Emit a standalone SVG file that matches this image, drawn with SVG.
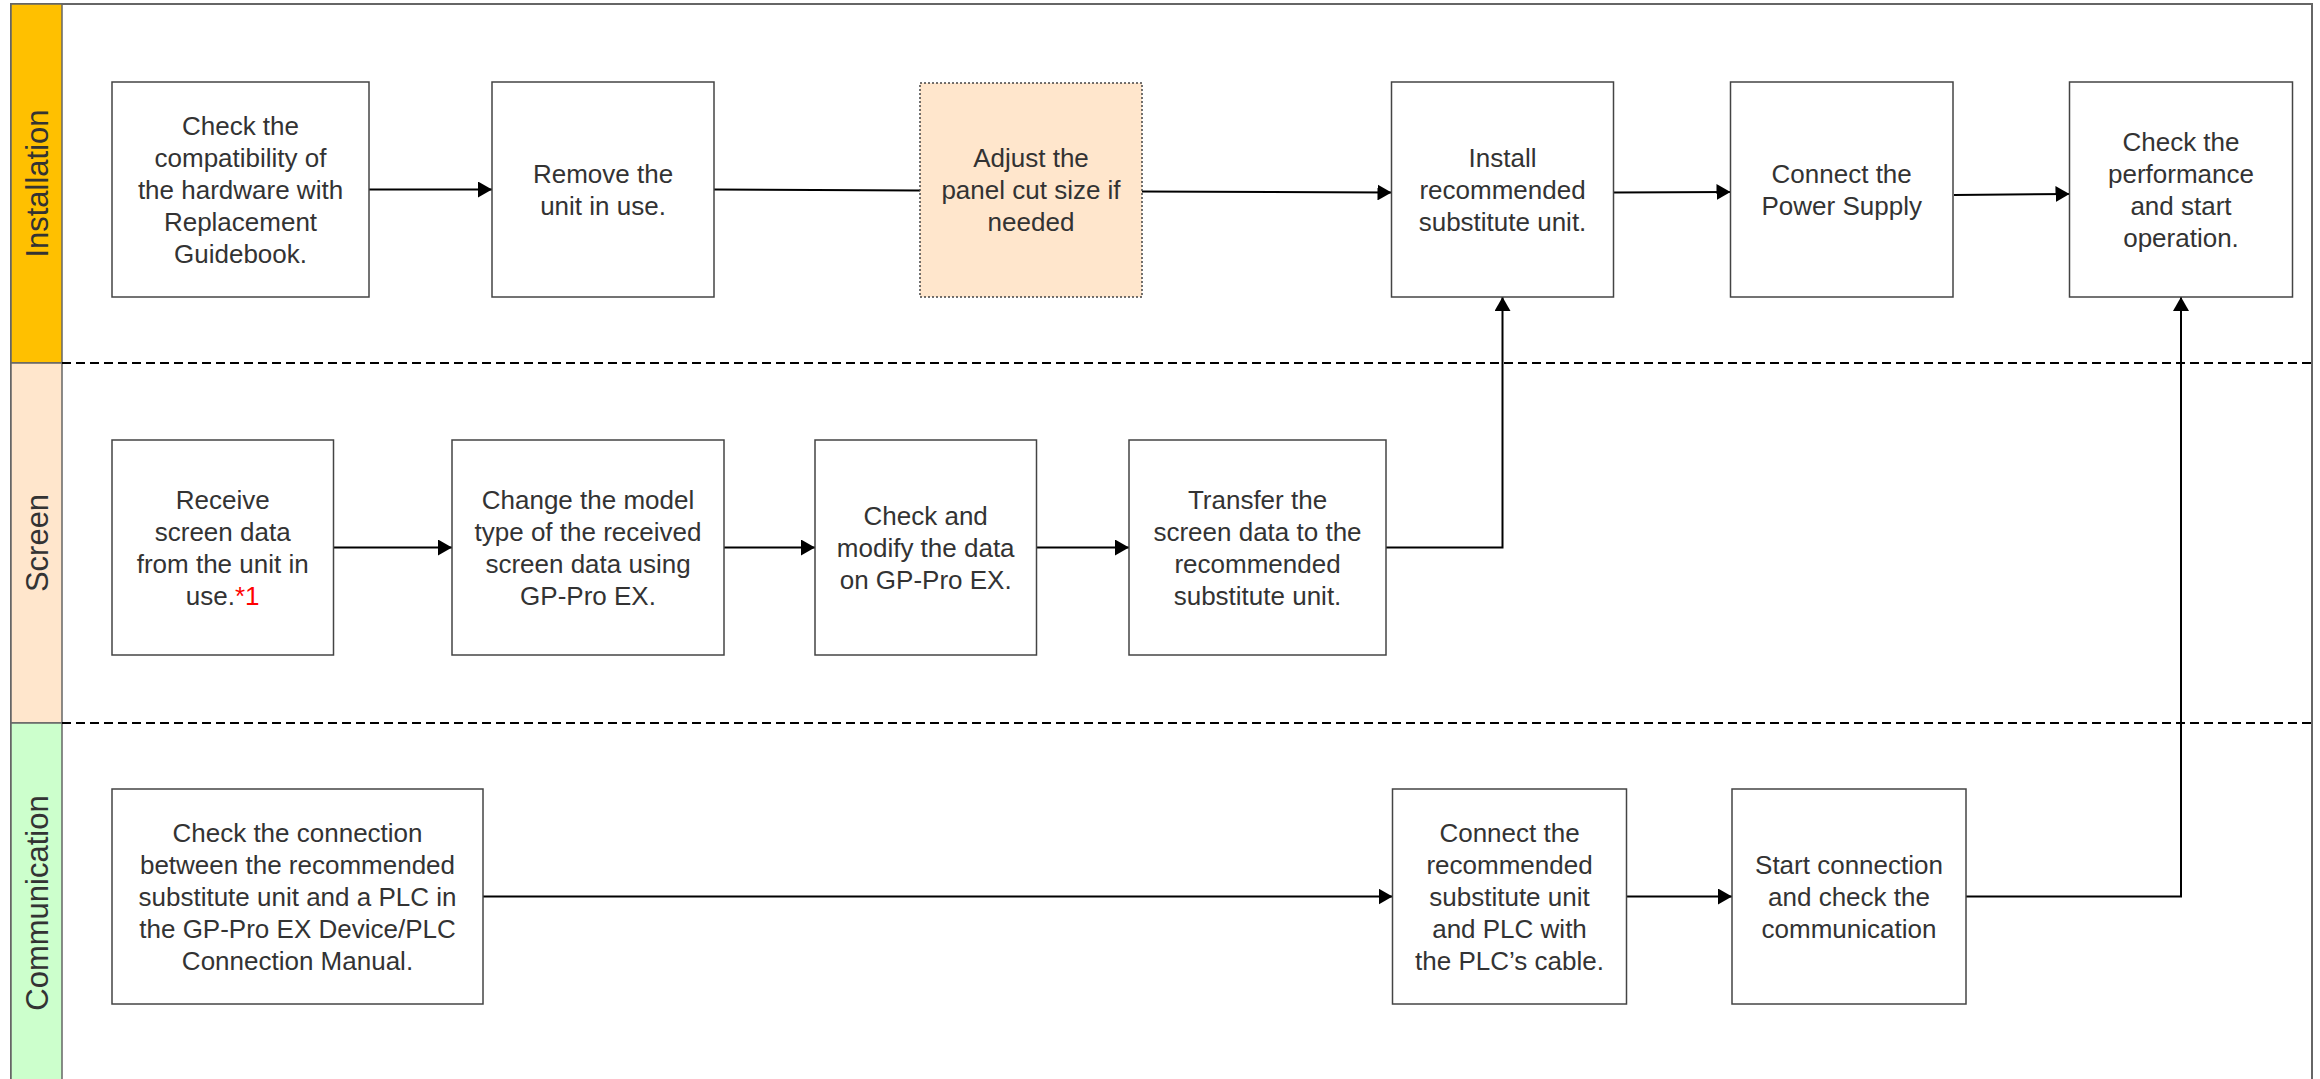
<svg xmlns="http://www.w3.org/2000/svg" width="2320" height="1079" viewBox="0 0 2320 1079">
<style>
.lane{stroke:#666;stroke-width:1.5}
.lt{font-family:"Liberation Sans",Arial,sans-serif;font-size:31px;fill:#333;text-anchor:middle}
.box{fill:#fff;stroke:#444;stroke-width:1.5}
.dot{fill:#FFE6CC;stroke:#444;stroke-width:1.5;stroke-dasharray:2 2}
.t{font-family:"Liberation Sans",Arial,sans-serif;font-size:26px;fill:#333;text-anchor:middle}
.sep{stroke:#000;stroke-width:2;stroke-dasharray:9 5;fill:none}
.c{stroke:#000;stroke-width:2;fill:none}
.ca{stroke:#000;stroke-width:2;fill:none;marker-end:url(#ah)}
</style>
<defs>
<marker id="ah" markerUnits="userSpaceOnUse" markerWidth="16" markerHeight="16" refX="14" refY="8" orient="auto">
<path d="M0,0 L14,8 L0,16 Z" fill="#000"/>
</marker>
</defs>
<rect x="0" y="0" width="2320" height="1079" fill="#fff"/>
<g id="frame">
<rect x="11" y="4" width="2301" height="1085" fill="#fff" stroke="#666" stroke-width="2"/>
</g>
<g id="lane-installation">
<rect class="lane" x="11" y="4" width="51" height="359" fill="#FFC000"/>
<text class="lt" transform="translate(48,183.5) rotate(-90)">Installation</text>
</g>
<g id="lane-screen">
<rect class="lane" x="11" y="363" width="51" height="360" fill="#FFE6CC"/>
<text class="lt" transform="translate(48,543) rotate(-90)">Screen</text>
</g>
<g id="lane-communication">
<rect class="lane" x="11" y="723" width="51" height="366" fill="#CCFFCC"/>
<text class="lt" transform="translate(48,903) rotate(-90)">Communication</text>
</g>
<g id="separators">
<line class="sep" x1="62" y1="363" x2="2312" y2="363"/>
<line class="sep" x1="62" y1="723" x2="2312" y2="723"/>
</g>
<g id="connectors">
<path class="ca" d="M369,189.5 L492,189.5"/>
<path class="c" d="M714,189.5 L920,190.5"/>
<path class="ca" d="M1142,191.5 L1391.5,192.5"/>
<path class="ca" d="M1613.5,192.5 L1730.5,192"/>
<path class="ca" d="M1954,195 L2069.5,194"/>
<path class="ca" d="M333.5,547.5 L452,547.5"/>
<path class="ca" d="M724,547.5 L815,547.5"/>
<path class="ca" d="M1036.5,547.5 L1129,547.5"/>
<path class="ca" d="M1386,547.5 L1502.5,547.5 L1502.5,297"/>
<path class="ca" d="M483,896.5 L1392.5,896.5"/>
<path class="ca" d="M1626.5,896.5 L1732,896.5"/>
<path class="ca" d="M1966,896.5 L2181,896.5 L2181,297"/>
</g>
<g id="n1">
<rect class="box" x="112" y="82" width="257" height="215"/>
<text class="t" x="240.5" y="135"><tspan x="240.5" y="135">Check the</tspan><tspan x="240.5" y="167">compatibility of</tspan><tspan x="240.5" y="199">the hardware with</tspan><tspan x="240.5" y="231">Replacement</tspan><tspan x="240.5" y="263">Guidebook.</tspan></text>
</g>
<g id="n2">
<rect class="box" x="492" y="82" width="222" height="215"/>
<text class="t"><tspan x="603" y="183">Remove the</tspan><tspan x="603" y="215">unit in use.</tspan></text>
</g>
<g id="n3">
<rect class="dot" x="920" y="83" width="222" height="214"/>
<text class="t"><tspan x="1031" y="167">Adjust the</tspan><tspan x="1031" y="199">panel cut size if</tspan><tspan x="1031" y="231">needed</tspan></text>
</g>
<g id="n4">
<rect class="box" x="1391.5" y="82" width="222" height="215"/>
<text class="t"><tspan x="1502.5" y="167">Install</tspan><tspan x="1502.5" y="199">recommended</tspan><tspan x="1502.5" y="231">substitute unit.</tspan></text>
</g>
<g id="n5">
<rect class="box" x="1730.5" y="82" width="222.5" height="215"/>
<text class="t"><tspan x="1841.7" y="183">Connect the</tspan><tspan x="1841.7" y="215">Power Supply</tspan></text>
</g>
<g id="n6">
<rect class="box" x="2069.5" y="82" width="223" height="215"/>
<text class="t"><tspan x="2181" y="151">Check the</tspan><tspan x="2181" y="183">performance</tspan><tspan x="2181" y="215">and start</tspan><tspan x="2181" y="247">operation.</tspan></text>
</g>
<g id="n7">
<rect class="box" x="112" y="440" width="221.5" height="215"/>
<text class="t"><tspan x="222.7" y="509">Receive</tspan><tspan x="222.7" y="541">screen data</tspan><tspan x="222.7" y="573">from the unit in</tspan><tspan x="222.7" y="605">use.<tspan fill="#FF0000">*1</tspan></tspan></text>
</g>
<g id="n8">
<rect class="box" x="452" y="440" width="272" height="215"/>
<text class="t"><tspan x="588" y="509">Change the model</tspan><tspan x="588" y="541">type of the received</tspan><tspan x="588" y="573">screen data using</tspan><tspan x="588" y="605">GP-Pro EX.</tspan></text>
</g>
<g id="n9">
<rect class="box" x="815" y="440" width="221.5" height="215"/>
<text class="t"><tspan x="925.7" y="525">Check and</tspan><tspan x="925.7" y="557">modify the data</tspan><tspan x="925.7" y="589">on GP-Pro EX.</tspan></text>
</g>
<g id="n10">
<rect class="box" x="1129" y="440" width="257" height="215"/>
<text class="t"><tspan x="1257.5" y="509">Transfer the</tspan><tspan x="1257.5" y="541">screen data to the</tspan><tspan x="1257.5" y="573">recommended</tspan><tspan x="1257.5" y="605">substitute unit.</tspan></text>
</g>
<g id="n11">
<rect class="box" x="112" y="789" width="371" height="215"/>
<text class="t"><tspan x="297.5" y="842">Check the connection</tspan><tspan x="297.5" y="874">between the recommended</tspan><tspan x="297.5" y="906">substitute unit and a PLC in</tspan><tspan x="297.5" y="938">the GP-Pro EX Device/PLC</tspan><tspan x="297.5" y="970">Connection Manual.</tspan></text>
</g>
<g id="n12">
<rect class="box" x="1392.5" y="789" width="234" height="215"/>
<text class="t"><tspan x="1509.5" y="842">Connect the</tspan><tspan x="1509.5" y="874">recommended</tspan><tspan x="1509.5" y="906">substitute unit</tspan><tspan x="1509.5" y="938">and PLC with</tspan><tspan x="1509.5" y="970">the PLC’s cable.</tspan></text>
</g>
<g id="n13">
<rect class="box" x="1732" y="789" width="234" height="215"/>
<text class="t"><tspan x="1849" y="874">Start connection</tspan><tspan x="1849" y="906">and check the</tspan><tspan x="1849" y="938">communication</tspan></text>
</g>
</svg>
